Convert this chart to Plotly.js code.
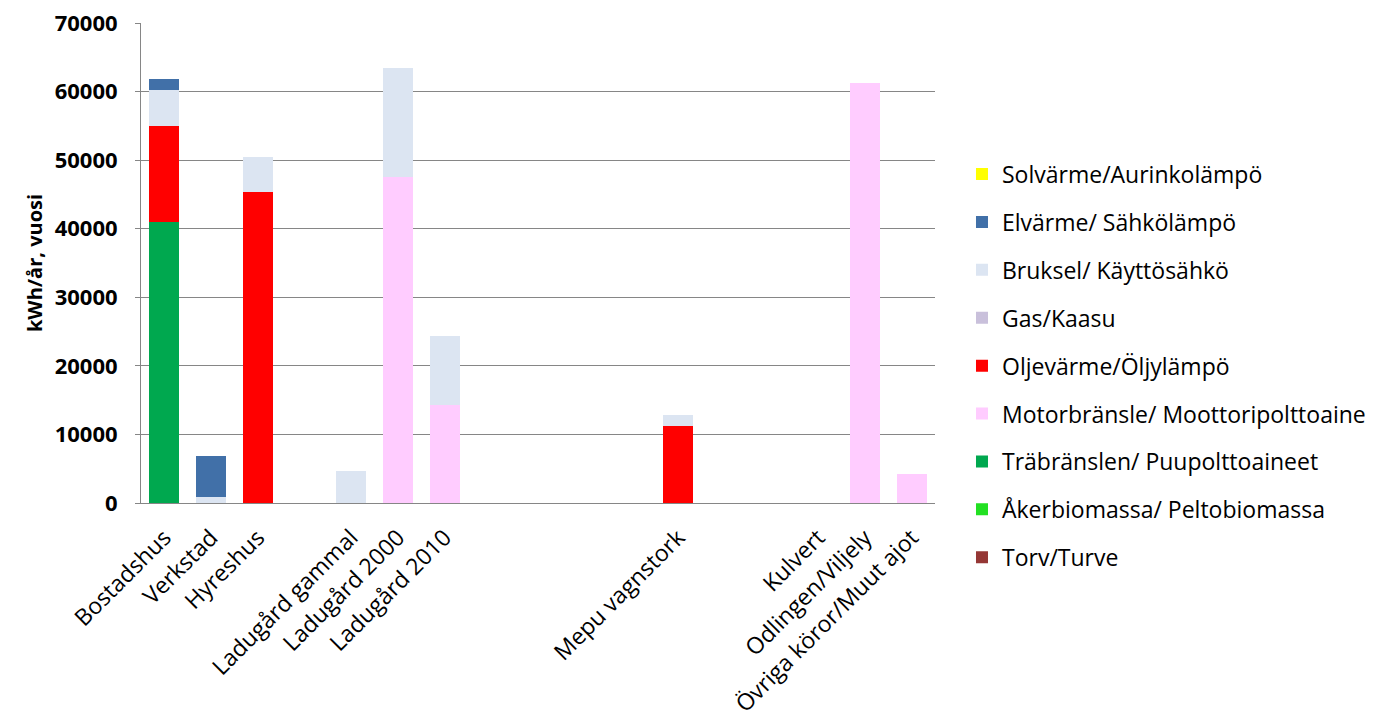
<!DOCTYPE html>
<html>
<head>
<meta charset="utf-8">
<script src="https://cdn.plot.ly/plotly-3.0.1.min.js"></script>
<style>html,body{margin:0;padding:0;background:#fff;}#chart{width:1383px;height:717px;}</style>
</head>
<body>
<div id="chart"></div>
<script>
var categories = ['Bostadshus','Verkstad','Hyreshus','','Ladugård gammal','Ladugård 2000','Ladugård 2010','','','','','Mepu vagnstork','','','Kulvert','Odlingen/Viljely','Övriga köror/Muut ajot'];

var solvarme =     [0,0,0,0,0,0,0,0,0,0,0,0,0,0,0,0,0];
var elvarme =      [1600,5900,0,0,0,0,0,0,0,0,0,0,0,0,0,0,0];
var bruksel =      [5300,900,5000,0,4700,15900,10000,0,0,0,0,1500,0,0,0,0,0];
var gas =          [0,0,0,0,0,0,0,0,0,0,0,0,0,0,0,0,0];
var oljevarme =    [14000,0,45400,0,0,0,0,0,0,0,0,11300,0,0,0,0,0];
var motorbransle = [0,0,0,0,0,47600,14300,0,0,0,0,0,0,0,0,61300,4200];
var trabranslen =  [41000,0,0,0,0,0,0,0,0,0,0,0,0,0,0,0,0];
var akerbiomassa = [0,0,0,0,0,0,0,0,0,0,0,0,0,0,0,0,0];
var torv =         [0,0,0,0,0,0,0,0,0,0,0,0,0,0,0,0,0];

var seriesNames = ['Torv/Turve','Åkerbiomassa/ Peltobiomassa','Träbränslen/ Puupolttoaineet','Motorbränsle/ Moottoripolttoaine','Oljevärme/Öljylämpö','Gas/Kaasu','Bruksel/ Käyttösähkö','Elvärme/ Sähkölämpö','Solvärme/Aurinkolämpö'];
var seriesValues = [torv, akerbiomassa, trabranslen, motorbransle, oljevarme, gas, bruksel, elvarme, solvarme];
var seriesColors = ['#953735','#22E022','#00A84F','#FFCCFF','#FF0000','#C9C0DB','#DCE5F2','#4170A8','#FFFF00'];

var xIdx = categories.map(function(c,i){return i;});
var tickvals = [], ticktext = [];
categories.forEach(function(c,i){ if(c!==''){ tickvals.push(i); ticktext.push(c);} });

var traces = seriesNames.map(function(n,k){
  return {
    type:'bar', name:n, x:xIdx, y:seriesValues[k],
    marker:{color:seriesColors[k]}, legendgroup:'g'+k,
    legendrank: seriesNames.length - k
  };
});

var font = 'Open Sans, Noto Sans, sans-serif';
var layout = {
  width:1383, height:717,
  margin:{l:141, r:448, t:23, b:214},
  paper_bgcolor:'#fff', plot_bgcolor:'#fff',
  barmode:'stack', bargap:0.36,
  showlegend:true,
  font:{family:font, color:'#000'},
  xaxis:{
    range:[-0.5,16.5], tickmode:'array', tickvals:tickvals, ticktext:ticktext,
    tickangle:-45, tickfont:{family:font, size:23, color:'#000'},
    ticklabelstandoff:11,
    showline:true, linecolor:'#868686', linewidth:1, showgrid:false, zeroline:false, ticks:''
  },
  yaxis:{
    range:[0,70000], dtick:10000, tickformat:'d',
    tickfont:{family:font, size:22, color:'#000', weight:'bold'},
    ticklabelstandoff:13,
    showline:true, linecolor:'#868686', linewidth:1,
    showgrid:true, gridcolor:'#868686', gridwidth:1, zeroline:false,
    ticks:'outside', ticklen:5, tickcolor:'#868686',
    title:{text:'kWh/år, vuosi', font:{family:font, size:20, color:'#000', weight:'bold'}, standoff:6}
  },
  legend:{
    x:1.034, xanchor:'left', y:0.73, yanchor:'top',
    traceorder:'grouped', tracegroupgap:15,
    font:{family:font, size:23, color:'#000'},
    bgcolor:'rgba(0,0,0,0)'
  }
};

Plotly.newPlot('chart', traces, layout, {displayModeBar:false, staticPlot:true});
</script>
</body>
</html>
